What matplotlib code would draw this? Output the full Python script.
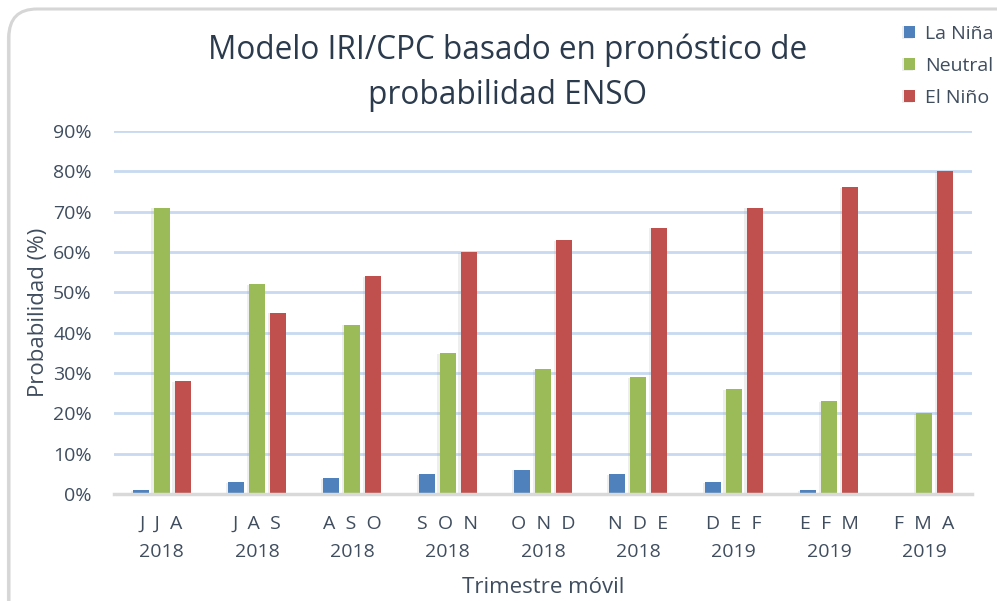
import numpy as np
import matplotlib
matplotlib.use("Agg")
import matplotlib.pyplot as plt
from matplotlib.patches import FancyBboxPatch
from matplotlib import patheffects as pe

plt.rcParams['font.family'] = ['Open Sans', 'DejaVu Sans']

# datos
trimestres = ['J  J  A\n2018', 'J  A  S\n2018', 'A  S  O\n2018', 'S  O  N\n2018', 'O  N  D\n2018',
              'N  D  E\n2018', 'D  E  F\n2019', 'E  F  M\n2019', 'F  M  A\n2019']
la_nina = [1, 3, 4, 5, 6, 5, 3, 1, 0]
neutral = [71, 52, 42, 35, 31, 29, 26, 23, 20]
el_nino = [28, 45, 54, 60, 63, 66, 71, 76, 80]

series = [('La Niña', la_nina, '#4f81bd'),
          ('Neutral', neutral, '#9bbb59'),
          ('El Niño', el_nino, '#c0504d')]

txt = '#3f4d5f'

fig = plt.figure(figsize=(9.97, 6.01), dpi=100)

# marco redondeado
frame = FancyBboxPatch((0.09, -0.3), 10.3, 6.22,
                       boxstyle="round,pad=0,rounding_size=0.28",
                       transform=fig.dpi_scale_trans, facecolor='white',
                       edgecolor='#d6d6d6', linewidth=2.2, zorder=-5,
                       path_effects=[pe.SimplePatchShadow(offset=(-1.5, -1.5), shadow_rgbFace='#bbbbbb', alpha=0.5),
                                     pe.Normal()])
fig.patches.append(frame)

ax = fig.add_axes([114 / 997, 1 - 494 / 601, (972 - 114) / 997, (494 - 131) / 601])
ax.set_facecolor('none')

x = np.arange(len(trimestres))
off = 0.22
w = 0.17
for k, (nombre, vals, col) in enumerate(series):
    bars = ax.bar(x + (k - 1) * off, np.array(vals) / 100, width=w, color=col,
                  label=nombre, zorder=3)
    for b in bars:
        b.set_path_effects([pe.SimplePatchShadow(offset=(-1.5, -0.5), shadow_rgbFace='#aaaaaa', alpha=0.2),
                            pe.Normal()])

ax.set_xlim(-0.5, len(trimestres) - 0.5)
ax.set_ylim(0, 0.9)
ax.set_yticks(np.arange(0, 0.91, 0.1))
ax.set_yticklabels([f'{int(round(v * 100))}%' for v in np.arange(0, 0.91, 0.1)])
ax.set_xticks(x)
ax.set_xticklabels(trimestres, linespacing=1.75)

ax.grid(axis='y', color='#c8d9f0', linewidth=2, zorder=0)
for s in ['top', 'right', 'left']:
    ax.spines[s].set_visible(False)
ax.spines['bottom'].set_color('#d9d9d9')
ax.spines['bottom'].set_linewidth(2.5)
ax.spines['bottom'].set_zorder(4)

ax.tick_params(axis='both', length=0, labelsize=14, colors=txt)
ax.tick_params(axis='x', pad=15)
ax.tick_params(axis='y', pad=16)

ax.set_ylabel('Probabilidad (%)', fontsize=16, color=txt, labelpad=3)
ax.set_xlabel('Trimestre móvil', fontsize=16, color=txt, labelpad=11)

fig.text(508 / 997, 1 - 50 / 601, 'Modelo IRI/CPC basado en pronóstico de', ha='center', va='center',
         fontsize=22.7, color='#2b3a4c')
fig.text(508 / 997, 1 - 95 / 601, 'probabilidad ENSO', ha='center', va='center',
         fontsize=22.7, color='#2b3a4c')

leg = ax.legend(loc='upper left', bbox_to_anchor=(896 / 997, 1 - 17 / 601), bbox_transform=fig.transFigure,
                frameon=False, fontsize=14, handlelength=0.6, handleheight=0.6, handletextpad=0.5,
                labelspacing=0.72, borderaxespad=0)
for t in leg.get_texts():
    t.set_color(txt)

fig.savefig('out.png', dpi=100)
